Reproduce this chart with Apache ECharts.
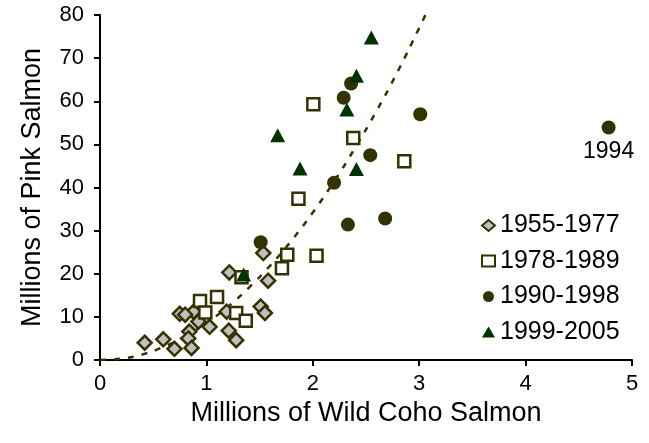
<!DOCTYPE html>
<html><head><meta charset="utf-8">
<script src="https://cdn.jsdelivr.net/npm/echarts@6/dist/echarts.min.js"></script>
<style>html,body{margin:0;padding:0;background:#fff}#c{width:649px;height:443px}</style>
</head><body><div id="c"></div>
<script>
// Data (x = millions of wild coho, y = millions of pink)
const s1955 = [[1.535,24.8],[1.215,20.3],[1.58,18.4],[1.51,12.4],[1.55,10.9],[1.19,11.2],[1.21,6.8],[1.28,4.6],[1.03,7.7],[0.925,8.9],[0.88,11.2],[0.75,10.7],[0.84,6.6],[0.83,5.0],[0.86,2.8],[0.70,2.6],[0.595,4.8],[0.42,4.0],[0.80,10.5]];
const s1978 = [[0.94,13.7],[1.10,14.6],[0.99,11.0],[1.28,10.9],[1.37,9.1],[1.33,19.2],[1.71,21.3],[1.76,24.4],[2.035,24.2],[1.865,37.4],[2.005,59.3],[2.38,51.5],[2.86,46.1]];
const s1990 = [[2.36,64.1],[2.29,60.8],[3.01,57.0],[2.54,47.5],[2.20,41.1],[2.68,32.8],[2.33,31.4],[1.51,27.3],[4.78,53.9]];
const s1999 = [[2.55,74.8],[2.41,65.9],[2.32,58.1],[1.67,52.1],[1.88,44.4],[2.41,44.3],[1.35,19.8]];
const trendX = [0,0.2,0.4,0.6,0.8,1.0,1.2,1.4,1.6,1.8,2.0,2.2,2.4,2.6,2.8,3.0,3.1];
const trendY = [0,0.3,1.3,3.1,5.5,8.6,12.3,16.8,21.9,27.7,34.2,41.4,49.3,57.8,67.0,77.0,82.2];
const labelled = [4.78,53.9];
const labelledName = '1994';
const names = ['1955-1977','1978-1989','1990-1998','1999-2005'];

const FONT = 'Arial, "Liberation Sans", sans-serif';
const dark = '#333300';
const chart = echarts.init(document.getElementById('c'), null, {renderer:'canvas'});
chart.setOption({
  animation:false,
  backgroundColor:'#fff',
  grid:{left:100,right:17,top:15,bottom:83,containLabel:false},
  legend:{
    orient:'vertical', left:476, top:208, itemGap:10.5, itemWidth:13, itemHeight:11,
    data:names,
    textStyle:{fontFamily:FONT,fontSize:25,color:'#000'}
  },
  xAxis:{
    type:'value',min:0,max:5,interval:1,
    name:'Millions of Wild Coho Salmon',nameLocation:'middle',nameGap:39,
    nameTextStyle:{fontFamily:FONT,fontSize:27,color:'#000'},
    axisLine:{lineStyle:{color:'#000',width:2}},
    axisTick:{length:6,lineStyle:{color:'#000',width:2}},
    axisLabel:{fontFamily:FONT,fontSize:22,color:'#000',margin:13},
    splitLine:{show:false}
  },
  yAxis:{
    type:'value',min:0,max:80,interval:10,
    name:'Millions of Pink Salmon',nameLocation:'middle',nameGap:54,
    nameTextStyle:{fontFamily:FONT,fontSize:27,color:'#000'},
    axisLine:{show:true,lineStyle:{color:'#000',width:2}},
    axisTick:{show:true,length:6,lineStyle:{color:'#000',width:2}},
    axisLabel:{fontFamily:FONT,fontSize:22,color:'#000',margin:16},
    splitLine:{show:false}
  },
  series:[
    {type:'line',data:trendX.map((x,i)=>[x,trendY[i]]),smooth:true,showSymbol:false,symbol:'none',
     lineStyle:{color:dark,width:2.5,type:[6,8]},clip:true,silent:true,z:1},
    {name:names[0],type:'scatter',data:s1955,symbol:'diamond',symbolSize:[14,14],
     itemStyle:{color:'#c0c0c0',borderColor:dark,borderWidth:2.5,opacity:1},z:2},
    {name:names[1],type:'scatter',data:s1978,symbol:'rect',symbolSize:12,
     itemStyle:{color:'#fff',borderColor:dark,borderWidth:2.5,opacity:1},z:3},
    {name:names[2],type:'scatter',data:s1990.map(p=>{
        if(p[0]===labelled[0]&&p[1]===labelled[1]) return {value:p,label:{show:true,position:'bottom',distance:6,formatter:labelledName,fontFamily:FONT,fontSize:23,color:'#000'}};
        return p;}),
     symbol:'circle',symbolSize:14,itemStyle:{color:dark,opacity:1},z:4},
    {name:names[3],type:'scatter',data:s1999,symbol:'triangle',symbolSize:[15,14],
     itemStyle:{color:'#003300',opacity:1},z:5}
  ]
});
</script></body></html>
